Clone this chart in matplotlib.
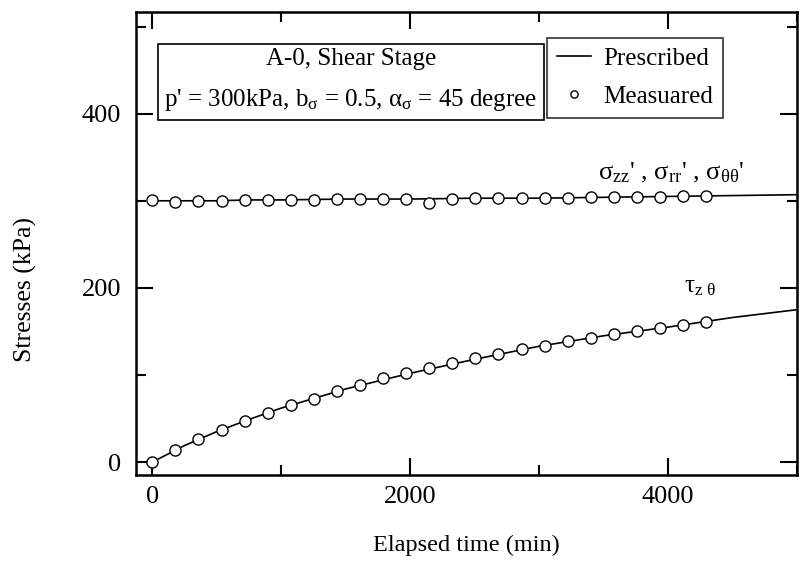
import numpy as np
import matplotlib.pyplot as plt
from matplotlib.ticker import MultipleLocator

# values
t_meas = [0, 179, 358, 537, 716, 895, 1074, 1253, 1432, 1611, 1790, 1969, 2148,
          2327, 2506, 2685, 2864, 3043, 3222, 3401, 3580, 3759, 3938, 4117, 4296]
sig_meas = [301, 299, 300, 300, 301, 301, 301, 301, 302, 302, 302, 302, 298,
            302, 303, 303, 303, 303, 303, 304, 304, 304, 304, 305, 305]
tau_meas = [0, 14, 26, 37, 47, 56, 65, 73, 82, 88, 97, 102, 108,
            114, 119, 124, 130, 133, 139, 143, 147, 150, 154, 157, 161]

t_pres = [0, 250, 500, 750, 1000, 1500, 2000, 2500, 3000, 3500, 4000, 4500, 5000]
sig_pres = [300, 300, 300, 301, 301, 302, 302, 303, 303, 304, 305, 306, 307]
tau_pres = [0, 19, 35, 49, 62, 84, 102, 118, 133, 145, 155, 166, 175]

plt.rcParams['font.family'] = ['Liberation Serif', 'DejaVu Serif']
plt.rcParams['mathtext.fontset'] = 'custom'
plt.rcParams['mathtext.rm'] = 'Liberation Serif'
plt.rcParams['mathtext.it'] = 'Liberation Serif'
plt.rcParams['mathtext.default'] = 'rm'

fig = plt.figure(figsize=(8.01, 5.61), dpi=100)
ax = fig.add_axes([0.170, 0.153, 0.825, 0.826])

ax.plot(t_pres, sig_pres, color='black', lw=1.2, label='Prescribed')
ax.plot(t_pres, tau_pres, color='black', lw=1.2)
ax.plot(t_meas, sig_meas, 'o', ms=8, mfc='white', mec='black', mew=1.0,
        label='Measuared')
ax.plot(t_meas, tau_meas, 'o', ms=8, mfc='white', mec='black', mew=1.0)

ax.set_xlim(-125, 5000)
ax.set_ylim(-15, 517)
ax.xaxis.set_major_locator(MultipleLocator(2000))
ax.xaxis.set_minor_locator(MultipleLocator(1000))
ax.yaxis.set_major_locator(MultipleLocator(200))
ax.yaxis.set_minor_locator(MultipleLocator(100))
ax.tick_params(which='both', direction='in', top=True, right=True,
               labelsize=19, width=1.5)
ax.tick_params(axis='y', pad=11)
ax.tick_params(axis='x', pad=8)
ax.tick_params(which='major', length=12)
ax.tick_params(which='minor', length=7)
for s in ax.spines.values():
    s.set_linewidth(1.8)

ax.set_xlabel('Elapsed time (min)', fontsize=17.5, labelpad=19)
ax.set_ylabel('Stresses (kPa)', fontsize=18.5)
ax.yaxis.set_label_coords(-0.15, 0.40)

ax.text(0.325, 0.851,
        "A-0, Shear Stage\np' = 300kPa, b$_{\\sigma}$ = 0.5, $\\alpha_{\\sigma}$ = 45 degree",
        transform=ax.transAxes, ha='center', va='center', fontsize=18,
        linespacing=1.9,
        bbox=dict(boxstyle='square,pad=0.25', fc='white', ec='black', lw=1.2))

leg = ax.legend(loc='upper left', bbox_to_anchor=(0.622, 0.944), fontsize=18,
                frameon=True, fancybox=False, edgecolor='black',
                handlelength=1.35, borderpad=0.4, labelspacing=0.62,
                handletextpad=0.5, borderaxespad=0, markerscale=0.65)
leg.get_frame().set_linewidth(1.2)

ax.text(4020, 318, "$\\sigma_{zz}$' , $\\sigma_{rr}$' , $\\sigma_{\\theta\\theta}$'",
        ha='center', va='bottom', fontsize=19)
ax.text(4250, 188, "$\\tau_{z\\ \\theta}$", ha='center', va='bottom', fontsize=18)

fig.savefig('out.png', dpi=100)
